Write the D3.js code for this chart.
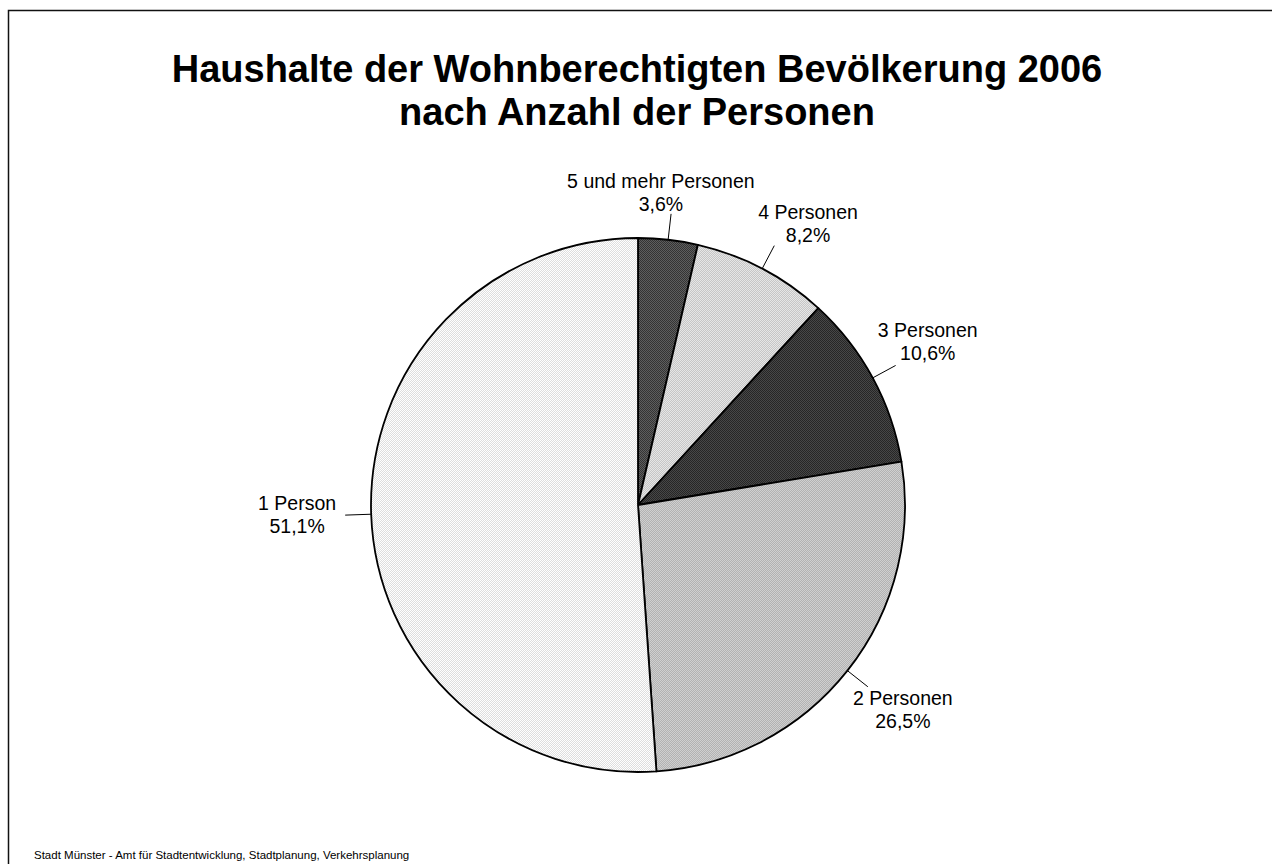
<!DOCTYPE html>
<html><head><meta charset="utf-8">
<script src="https://cdn.jsdelivr.net/npm/d3@7"></script>
<style>
html,body{margin:0;padding:0;background:#fff;}
svg{display:block;font-family:Arial,"Liberation Sans",sans-serif;}
</style></head>
<body>
<svg id="chart" width="1272" height="864"></svg>
<script>
const titleLines = ["Haushalte der Wohnberechtigten Bevölkerung 2006", "nach Anzahl der Personen"];
const categories = ["5 und mehr Personen", "4 Personen", "3 Personen", "2 Personen", "1 Person"];
const values = [3.6, 8.2, 10.6, 26.5, 51.1];
const valueLabels = ["3,6%", "8,2%", "10,6%", "26,5%", "51,1%"];
const footer = "Stadt Münster - Amt für Stadtentwicklung, Stadtplanung, Verkehrsplanung";
// layout tweaks for label placement: radius and angle nudge (degrees)
const labelRadius = [314, 329, 333, 334, 341];
const labelAngleNudge = [-2.3, 3.4, -1.1, -0.8, 0.5];
// pattern colours per slice: [base, dot]
const patternColors = [["#343434", "#5e5e5e"], ["#e6e6e6", "#c6c6c6"], ["#262626", "#474747"], ["#d0d0d0", "#b2b2b2"], ["#ffffff", "#dedede"]];

const W = 1272, H = 864;
const svg = d3.select("#chart");

svg.append("rect").attr("x", 8.5).attr("y", 10.5).attr("width", W).attr("height", H)
  .attr("fill", "none").attr("stroke", "#111").attr("stroke-width", 1.5);

const defs = svg.append("defs");
patternColors.forEach((c, i) => {
  const p = defs.append("pattern").attr("id", "pat" + i).attr("patternUnits", "userSpaceOnUse")
    .attr("width", 2).attr("height", 2);
  p.append("rect").attr("width", 2).attr("height", 2).attr("fill", c[0]);
  p.append("rect").attr("width", 1).attr("height", 1).attr("fill", c[1]);
  p.append("rect").attr("x", 1).attr("y", 1).attr("width", 1).attr("height", 1).attr("fill", c[1]);
});

svg.append("text").attr("x", 637).attr("y", 82).attr("text-anchor", "middle")
  .attr("font-size", 38).attr("font-weight", "bold").attr("fill", "#000")
  .selectAll("tspan").data(titleLines).join("tspan")
  .attr("x", 637).attr("dy", (d, i) => i === 0 ? 0 : 43).text(d => d);

const cx = 638, cy = 505, r = 267;
const g = svg.append("g").attr("transform", `translate(${cx},${cy})`);
const pie = d3.pie().sort(null).value(d => d)(values);
const arc = d3.arc().innerRadius(0).outerRadius(r);
g.selectAll("path.slice").data(pie).join("path").attr("class", "slice")
  .attr("d", arc).attr("fill", (d, i) => `url(#pat${i})`)
  .attr("stroke", "#000").attr("stroke-width", 1.8).attr("stroke-linejoin", "round");

const mid = d => (d.startAngle + d.endAngle) / 2;
const pt = (a, rr) => [Math.sin(a) * rr, -Math.cos(a) * rr];
g.selectAll("line.leader").data(pie).join("line").attr("class", "leader")
  .attr("x1", d => pt(mid(d), r)[0]).attr("y1", d => pt(mid(d), r)[1])
  .attr("x2", d => pt(mid(d), r + 26)[0]).attr("y2", d => pt(mid(d), r + 26)[1])
  .attr("stroke", "#000").attr("stroke-width", 1);

const labPt = (d, i) => pt(mid(d) + labelAngleNudge[i] * Math.PI / 180, labelRadius[i]);
const lab = g.selectAll("text.lab").data(pie).join("text").attr("class", "lab")
  .attr("text-anchor", "middle").attr("font-size", 19.5).attr("fill", "#000")
  .attr("transform", (d, i) => `translate(${labPt(d, i)[0]},${labPt(d, i)[1]})`);
lab.append("tspan").attr("x", 0).attr("y", -4).text((d, i) => categories[i]);
lab.append("tspan").attr("x", 0).attr("y", 19).text((d, i) => valueLabels[i]);

svg.append("text").attr("x", 34).attr("y", 859).attr("font-size", 11.5).attr("fill", "#000").text(footer);
</script>
</body></html>
